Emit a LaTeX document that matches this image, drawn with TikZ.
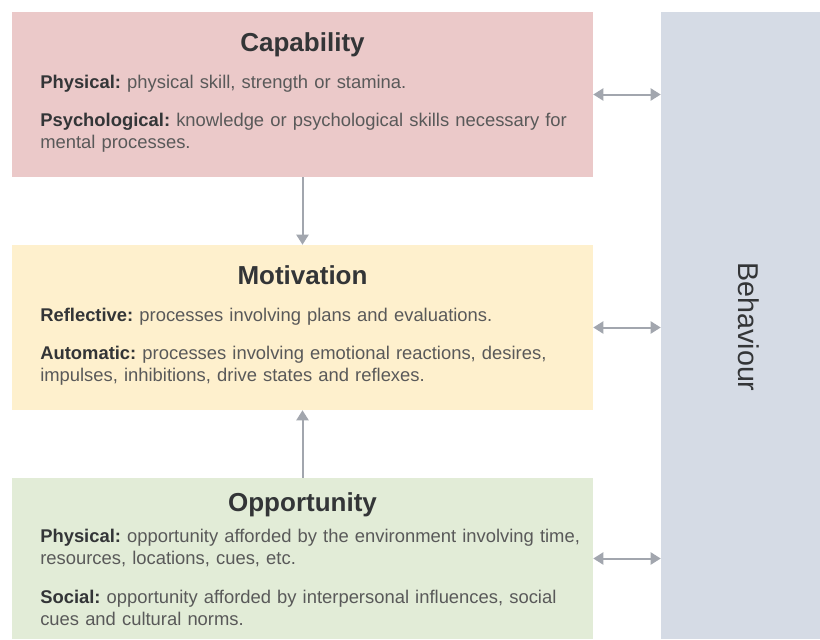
\documentclass[tikz,border=0pt]{standalone}
\usepackage{fontspec}
\setmainfont{Liberation Sans}
\usetikzlibrary{arrows.meta, positioning}
\definecolor{capfill}{HTML}{EBC9C9}
\definecolor{motfill}{HTML}{FEF0CD}
\definecolor{oppfill}{HTML}{E2ECD7}
\definecolor{behfill}{HTML}{D5DBE5}
\definecolor{arrowgrey}{HTML}{A2A6AE}
\definecolor{textdark}{HTML}{333537}
\definecolor{textgrey}{HTML}{595959}

\begin{document}
\begin{tikzpicture}[x=0.75pt, y=-0.75pt,
    block/.style={rectangle, inner sep=0pt, minimum width=435.75pt},
    heading/.style={anchor=base, text=textdark, font=\fontsize{19.5}{23}\selectfont\bfseries},
    para/.style={anchor=base west, text=textgrey, align=left, text width=430pt, inner sep=0pt,
      font=\fontsize{13.8}{16.5}\selectfont\frenchspacing},
    link/.style={draw=arrowgrey, line width=1.5pt, {Triangle[width=9pt, length=7.5pt]}-{Triangle[width=9pt, length=7.5pt]}},
    flow/.style={draw=arrowgrey, line width=1.5pt, -{Triangle[width=9pt, length=7.5pt]}}]
    \useasboundingbox (0,0) rectangle (820,639);

    % Draw the blocks
    \node (cap) [block, fill=capfill, minimum height=123.75pt] at (302.5,94.5) {};
    \node (mot) [block, fill=motfill, minimum height=123.75pt] at (302.5,327.5) {};
    \node (opp) [block, fill=oppfill, minimum height=120.75pt] at (302.5,558.5) {};
    \node (beh) [rectangle, inner sep=0pt, fill=behfill, minimum width=119.25pt, minimum height=470.25pt] at (740.5,325.5) {};

    % Add the texts
    \node (captitle) [heading] at (302.5,51) {Capability};
    \node (capphys)  [para] at (40,88) {\textcolor{textdark}{\textbf{Physical:}} physical skill, strength or stamina.};
    \node (cappsy)   [para] at (40,126) {\textcolor{textdark}{\textbf{Psychological:}} knowledge or psychological skills necessary for\\mental processes.};

    \node (mottitle) [heading] at (302.5,284) {Motivation};
    \node (motrefl)  [para] at (40,321) {\textcolor{textdark}{\textbf{Reflective:}} processes involving plans and evaluations.};
    \node (motauto)  [para] at (40,359) {\textcolor{textdark}{\textbf{Automatic:}} processes involving emotional reactions, desires,\\impulses, inhibitions, drive states and reflexes.};

    \node (opptitle) [heading] at (302.5,511) {Opportunity};
    \node (oppphys)  [para] at (40,542) {\textcolor{textdark}{\textbf{Physical:}} opportunity afforded by the environment involving time,\\resources, locations, cues, etc.};
    \node (oppsoc)   [para] at (40,603) {\textcolor{textdark}{\textbf{Social:}} opportunity afforded by interpersonal influences, social\\cues and cultural norms.};

    \node (behlabel) [rotate=-90, text=textdark, font=\fontsize{21.5}{24}\selectfont] at (749,327) {Behaviour};

    % Draw the connecting lines
    \draw [flow] (cap.south) -- (mot.north);
    \draw [flow] (opp.north) -- (mot.south);
    \draw [link] (cap.east) -- (beh.west |- cap.east);
    \draw [link] (mot.east) -- (beh.west |- mot.east);
    \draw [link] (opp.east) -- (beh.west |- opp.east);
\end{tikzpicture}
\end{document}
